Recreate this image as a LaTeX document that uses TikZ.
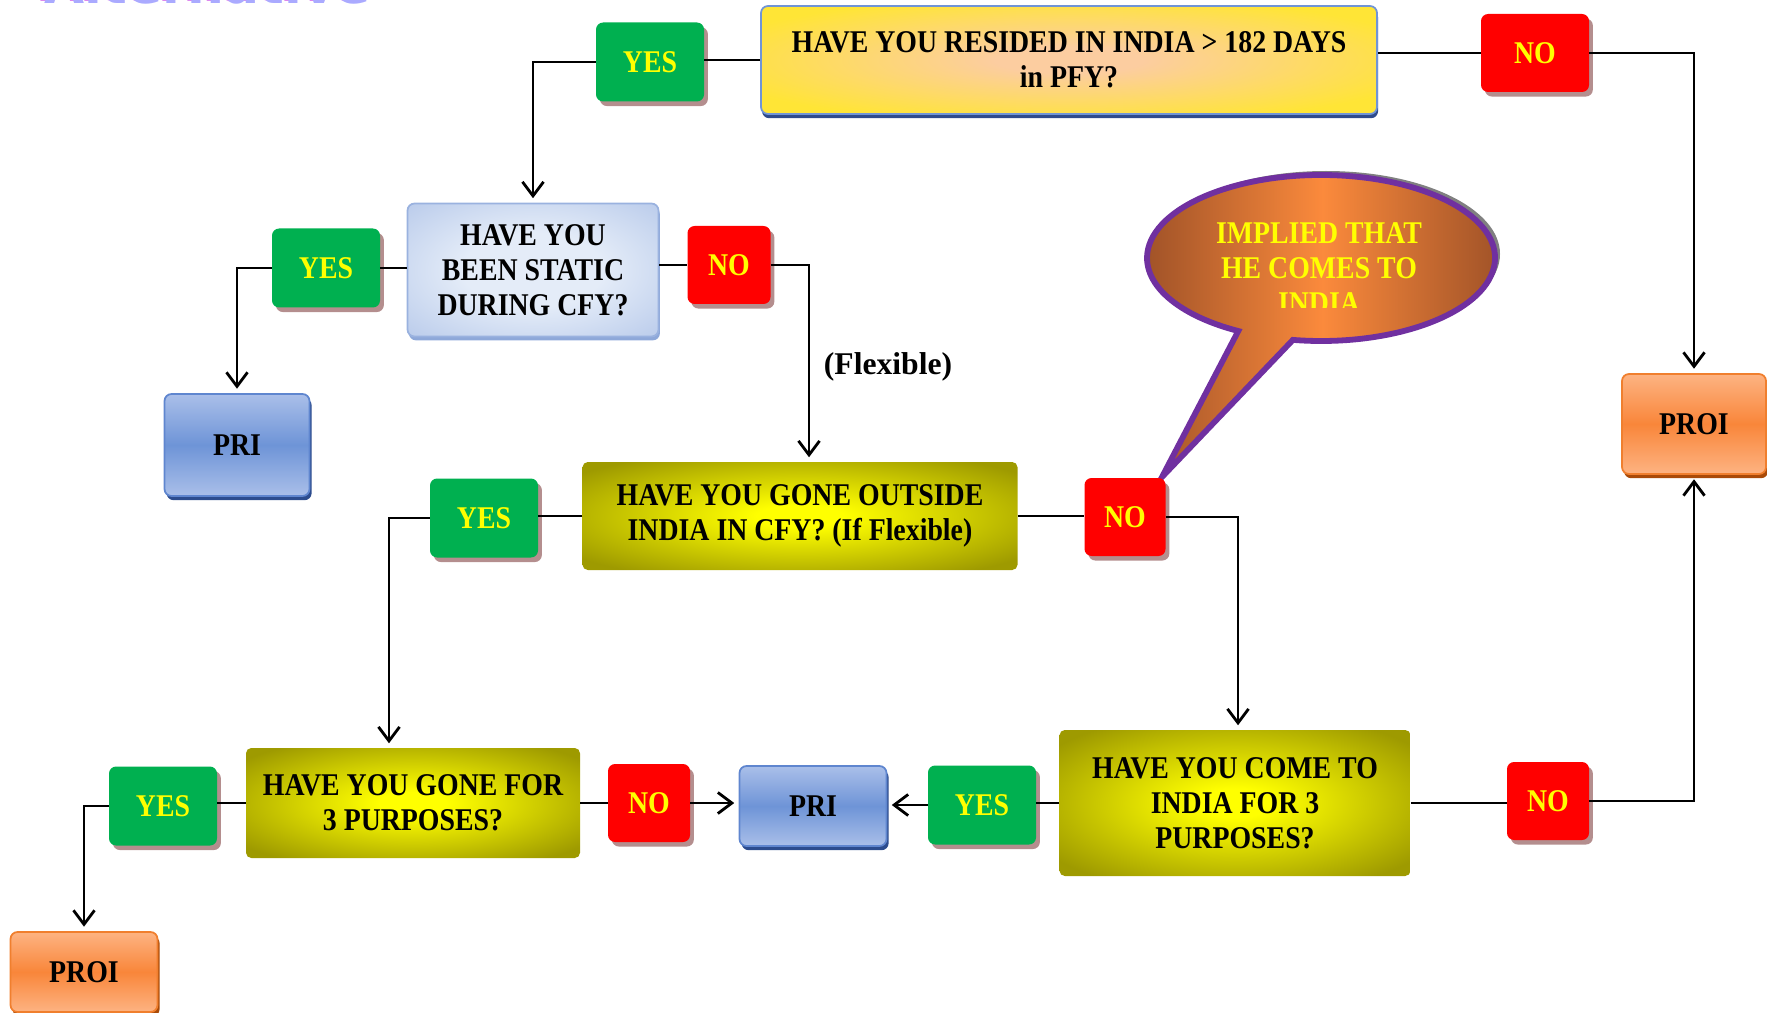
\documentclass[tikz,border=0pt]{standalone}
\usepackage{fontspec}
\setmainfont{Liberation Serif}[FakeStretch=0.88]
\newfontfamily\lblfont{Liberation Serif}
\newfontfamily\ttlfont{DejaVu Sans}
\usetikzlibrary{shadows,arrows.meta,calc}

\newlength\pxu \setlength\pxu{0.02cm}
\newcommand\qfont{\bfseries\fontsize{18}{20}\selectfont}

% palette
\definecolor{yesgreen}{HTML}{00B050}
\definecolor{nored}{HTML}{FF0000}
\definecolor{txtyellow}{HTML}{FFFF00}
\definecolor{shbrown}{HTML}{B48E8E}
\definecolor{qpeach}{HTML}{FCCDA0}
\definecolor{qyellow}{HTML}{FFE536}
\definecolor{qborder}{HTML}{7094D6}
\definecolor{qshadow}{HTML}{2F4B8C}
\definecolor{blulight}{HTML}{E4ECF8}
\definecolor{bludark}{HTML}{AABFE6}
\definecolor{bluborder}{HTML}{9AB2DF}
\definecolor{blushadow}{HTML}{8EA8D9}
\definecolor{pritop}{HTML}{AABFE9}
\definecolor{primid}{HTML}{6E94D7}
\definecolor{priborder}{HTML}{5F86CF}
\definecolor{prishadow}{HTML}{2C4C8E}
\definecolor{proitop}{HTML}{FDB382}
\definecolor{proimid}{HTML}{F9863A}
\definecolor{proiborder}{HTML}{F07F2E}
\definecolor{proishadow}{HTML}{A94A08}
\definecolor{oliveinner}{HTML}{FFFF00}
\definecolor{oliveouter}{HTML}{9E9A00}
\definecolor{calbrown}{HTML}{9C5027}
\definecolor{calorange}{HTML}{FB8A3C}
\definecolor{calpurple}{HTML}{7030A0}
\definecolor{calshadow}{HTML}{808080}
\definecolor{ttllav}{HTML}{AAAAFF}
\definecolor{ttlmag}{HTML}{DD88EE}

\pgfdeclareradialshading{olivegl}{\pgfpoint{0bp}{0bp}}{color(0bp)=(oliveinner); color(5bp)=(oliveinner); color(32bp)=(oliveouter); color(50bp)=(oliveouter)}
\pgfdeclareradialshading{peachgl}{\pgfpoint{0bp}{0bp}}{color(0bp)=(qpeach); color(6bp)=(qpeach); color(30bp)=(qyellow); color(50bp)=(qyellow)}
\pgfdeclareradialshading{palegl}{\pgfpoint{0bp}{0bp}}{color(0bp)=(blulight); color(14bp)=(blulight); color(44bp)=(bludark); color(50bp)=(bludark)}

\tikzset{
  flowbox/.style 2 args={rectangle, rounded corners=4pt, minimum width=#1\pxu,
    minimum height=#2\pxu, inner sep=0pt, align=center, font=\qfont},
  yesbox/.style={flowbox={108}{79}, fill=yesgreen, text=txtyellow,
    drop shadow={shadow xshift=2.2pt, shadow yshift=-2.6pt, fill=shbrown, opacity=1}},
  nobox/.style={flowbox={#1}{78}, fill=nored, text=txtyellow,
    drop shadow={shadow xshift=2.2pt, shadow yshift=-2.6pt, fill=shbrown, opacity=1}},
  resbox/.style 2 args={flowbox={#1}{#2}, shading=peachgl, draw=qborder, line width=1pt,
    drop shadow={shadow xshift=0.6pt, shadow yshift=-2.4pt, fill=qshadow, opacity=1}},
  palebox/.style 2 args={flowbox={#1}{#2}, shading=palegl, draw=bluborder, line width=1pt,
    drop shadow={shadow xshift=0.8pt, shadow yshift=-2.2pt, fill=blushadow, opacity=1}},
  olivebox/.style 2 args={flowbox={#1}{#2}, rounded corners=3pt, shading=olivegl},
  pribox/.style 2 args={flowbox={#1}{#2}, top color=pritop, bottom color=pritop,
    middle color=primid, draw=priborder, line width=1pt,
    drop shadow={shadow xshift=1.2pt, shadow yshift=-2.4pt, fill=prishadow, opacity=1}},
  proibox/.style 2 args={flowbox={#1}{#2}, top color=proitop, bottom color=proitop,
    middle color=proimid, draw=proiborder, line width=1pt,
    drop shadow={shadow xshift=1.2pt, shadow yshift=-2.4pt, fill=proishadow, opacity=1}},
  conn/.style={draw=black, line width=1.6pt},
  arr/.style={conn, -{Straight Barb[length=8pt,width=12pt]}, shorten >=2.5pt},
}

\begin{document}
\begin{tikzpicture}[x=\pxu, y=-\pxu]
\path[use as bounding box] (0,0) rectangle (1767,1013);
\clip (0,0) rectangle (1767,1013);

% heading, mostly above the page edge
\node[font=\ttlfont\bfseries\fontsize{29.5}{30}\selectfont, text=ttlmag, anchor=base west,
      inner sep=0pt] (ttlsh) at (40,2) {Alternative};
\node[font=\ttlfont\bfseries\fontsize{29.5}{30}\selectfont, text=ttllav, anchor=base west,
      inner sep=0pt] (ttl) at (44,4) {Alternative};

% speech bubble
\fill[calshadow] (1326,254) ellipse [x radius=174, y radius=83];
\path[draw=calpurple, line width=3.3pt, line join=miter, left color=calbrown,
      right color=calbrown, middle color=calorange]
  (1292.9,339.9) arc[start angle=99.3, end angle=-241.6, x radius=174, y radius=83]
  -- (1162,477) -- cycle;
\begin{scope}
  \clip (1150,180) rectangle (1495,308);
  \node[font=\qfont, text=txtyellow, align=center, inner sep=0pt] (bubbletext)
    at (1319,268) {IMPLIED THAT\\HE COMES TO\\INDIA};
\end{scope}

% decisions and outcomes
\node[resbox={616}{108}] (q1) at (1069,60) {HAVE YOU RESIDED IN INDIA > 182 DAYS\\in PFY?};
\node[yesbox] (y1) at (650,62) {YES};
\node[nobox=108] (n1) at (1535,53) {NO};

\node[palebox={251}{133}] (q2) at (533,270) {HAVE YOU\\BEEN STATIC\\DURING CFY?};
\node[yesbox] (y2) at (326,268) {YES};
\node[nobox=83] (n2) at (729,265) {NO};
\node[pribox={145}{102}] (pri1) at (237,445) {PRI};

\node[olivebox={435}{108}] (q3) at (800,516) {HAVE YOU GONE OUTSIDE\\INDIA IN CFY? (If Flexible)};
\node[yesbox] (y3) at (484,518) {YES};
\node[nobox=81] (n3) at (1125,517) {NO};

\node[olivebox={351}{146}] (q4) at (1235,803) {HAVE YOU COME TO\\INDIA FOR 3\\PURPOSES?};
\node[yesbox] (y4) at (982,805) {YES};
\node[pribox={147}{80}] (pri2) at (813,806) {PRI};
\node[nobox=82] (n5) at (1548,801) {NO};
\node[proibox={144}{100}] (proi2) at (1694,424) {PROI};

\node[olivebox={334}{110}] (q5) at (413,803) {HAVE YOU GONE FOR\\3 PURPOSES?};
\node[nobox=82] (n4) at (649,803) {NO};
\node[yesbox] (y5) at (163,806) {YES};
\node[proibox={147}{80}] (proi1) at (84,972) {PROI};

\node[font=\lblfont\bfseries\fontsize{18}{20}\selectfont, inner sep=0pt] (flex) at (888,367) {(Flexible)};

% connectors
\draw[conn] (q1.west) -- (q1.west -| y1.east);
\draw[arr] (y1.west) -| (q2.north);
\draw[conn] (n1.west) -- (n1.west -| q1.east);
\draw[arr] (n1.east) -| (proi2.north);

\draw[conn] (y2.east) -- (y2.east -| q2.west);
\draw[arr] (y2.west) -| (pri1.north);
\draw[conn] (n2.west) -- (n2.west -| q2.east);
\draw[arr] (n2.east) -| ($(q3.north)+(9,0)$);

\draw[conn] (q3.west) -- (q3.west -| y3.east);
\draw[arr] (y3.west) -| ($(q5.north)+(-24,0)$);
\draw[conn] (q3.east) -- (q3.east -| n3.west);
\draw[arr] (n3.east) -| ($(q4.north)+(3,0)$);

\draw[conn] (q4.west) -- (q4.west -| y4.east);
\draw[arr] (y4.west) -- (y4.west -| pri2.east);
\draw[conn] (q4.east) -- (q4.east -| n5.west);
\draw[arr] (n5.east) -| (proi2.south);

\draw[conn] (q5.east) -- (q5.east -| n4.west);
\draw[arr] (n4.east) -- (n4.east -| pri2.west);
\draw[conn] (q5.west) -- (q5.west -| y5.east);
\draw[arr] (y5.west) -| (proi1.north);
\end{tikzpicture}
\end{document}
